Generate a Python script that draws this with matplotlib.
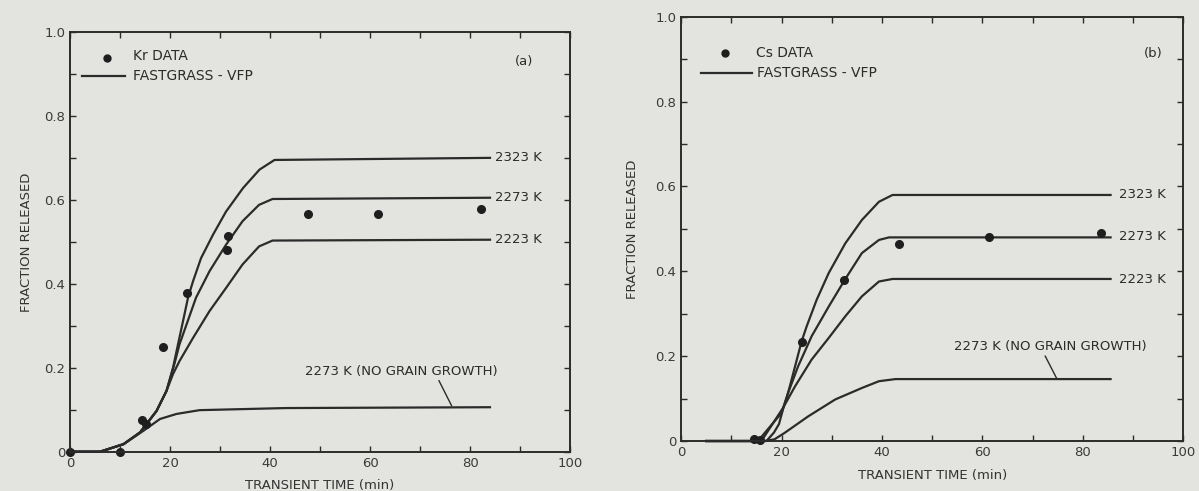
import matplotlib
matplotlib.use("Agg")
import matplotlib.pyplot as plt

# ---- data: panel (a) Kr ----
kr_t = [0, 10, 14.3, 15.2, 18.6, 23.4, 31.4, 31.6, 47.6, 61.6, 82.1]
kr_f = [0, 0, 0.075, 0.067, 0.25, 0.378, 0.481, 0.515, 0.566, 0.566, 0.578]

a2323_t = [0, 6, 10.7, 14.0, 15.3, 17.3, 19.3, 20.6, 21.6, 22.6, 23.6, 24.6, 26.2, 28.6, 31.2, 34.6, 37.9, 40.9, 84]
a2323_f = [0, 0, 0.018, 0.046, 0.066, 0.097, 0.145, 0.2, 0.256, 0.311, 0.367, 0.406, 0.461, 0.517, 0.572, 0.628, 0.672, 0.695, 0.70]
a2273_t = [0, 6, 10.7, 14.0, 15.3, 17.3, 19.3, 20.9, 21.9, 23.3, 25.2, 27.9, 31.2, 34.5, 37.8, 40.5, 84]
a2273_f = [0, 0, 0.018, 0.046, 0.066, 0.097, 0.145, 0.21, 0.256, 0.303, 0.367, 0.43, 0.493, 0.549, 0.588, 0.602, 0.605]
a2223_t = [0, 6, 10.7, 14.0, 15.3, 17.3, 19.3, 20.6, 21.9, 24.6, 27.9, 31.2, 34.5, 37.8, 40.5, 84]
a2223_f = [0, 0, 0.018, 0.046, 0.066, 0.097, 0.145, 0.185, 0.216, 0.271, 0.335, 0.39, 0.446, 0.489, 0.503, 0.505]
ang_t = [0, 6, 10.7, 14.7, 18.0, 21.3, 25.9, 43.1, 84]
ang_f = [0, 0, 0.018, 0.05, 0.078, 0.09, 0.099, 0.104, 0.106]

# ---- data: panel (b) Cs ----
cs_t = [14.6, 15.8, 24.0, 32.5, 43.3, 61.4, 83.6]
cs_f = [0.005, 0.003, 0.234, 0.38, 0.465, 0.48, 0.491]

b2323_t = [5, 15.3, 20.0, 21.3, 22.7, 24.0, 25.0, 27.0, 29.4, 32.7, 36.0, 39.4, 42.1, 85.5]
b2323_f = [0, 0, 0.066, 0.113, 0.176, 0.235, 0.27, 0.333, 0.396, 0.466, 0.521, 0.564, 0.580, 0.580]
b2273_t = [5, 17.0, 18.5, 19.5, 20.3, 21.3, 23.3, 26.0, 29.4, 32.7, 36.0, 39.4, 41.4, 85.5]
b2273_f = [0, 0, 0.02, 0.04, 0.075, 0.113, 0.176, 0.247, 0.317, 0.382, 0.443, 0.474, 0.480, 0.480]
b2223_t = [5, 16.0, 20.3, 22.7, 26.0, 29.4, 32.7, 36.0, 39.4, 42.1, 85.5]
b2223_f = [0, 0, 0.078, 0.129, 0.192, 0.243, 0.294, 0.341, 0.376, 0.382, 0.382]
bng_t = [5, 16.6, 18.6, 20.6, 25.3, 30.7, 36.0, 39.4, 42.7, 85.5]
bng_f = [0, 0, 0.004, 0.019, 0.058, 0.098, 0.125, 0.141, 0.146, 0.146]

x_ticks = [0, 20, 40, 60, 80, 100]
x_ticklabels = ["0", "20", "40", "60", "80", "100"]
y_ticks = [0, 0.2, 0.4, 0.6, 0.8, 1.0]
y_ticklabels = ["0", "0.2", "0.4", "0.6", "0.8", "1.0"]

BG = "#e3e3df"
INK = "#2b2b2b"
TXT = "#333333"
plt.rcParams["font.family"] = ["DejaVu Sans"]

fig = plt.figure(figsize=(11.99, 4.91), dpi=100, facecolor=BG)
axA = fig.add_axes([0.0584, 0.0800, 0.4170, 0.8550])
axB = fig.add_axes([0.5680, 0.1018, 0.4190, 0.8640])


def style(ax, ypad):
    ax.set_facecolor(BG)
    ax.set_xlim(0, 100)
    ax.set_ylim(0, 1.0)
    ax.set_xticks(x_ticks)
    ax.set_xticklabels(x_ticklabels)
    ax.set_yticks(y_ticks)
    ax.set_yticklabels(y_ticklabels)
    ax.set_xticks(range(0, 101, 10), minor=True)
    ax.set_yticks([i / 10 for i in range(11)], minor=True)
    ax.tick_params(which="both", direction="in", top=True, right=True,
                   color=INK, width=1.0, labelcolor="#3a3a3a", labelsize=9.5)
    ax.tick_params(which="major", length=4)
    ax.tick_params(which="minor", length=4)
    for s in ax.spines.values():
        s.set_color(INK)
        s.set_linewidth(1.4)
    ax.set_xlabel("TRANSIENT TIME (min)", fontsize=9.5, color=TXT, labelpad=7)
    ax.set_ylabel("FRACTION RELEASED", fontsize=9.5, color=TXT, labelpad=ypad)


lw = 1.6
style(axA, 8)
style(axB, 12)

# panel a
for t, f in [(a2323_t, a2323_f), (a2273_t, a2273_f), (a2223_t, a2223_f), (ang_t, ang_f)]:
    axA.plot(t, f, color=INK, lw=lw, clip_on=False, solid_joinstyle="round")
axA.plot(kr_t, kr_f, "o", color="#1e1e1e", ms=5.5, clip_on=False)
axA.text(85, 0.70, "2323 K", fontsize=9.5, va="center", color=INK)
axA.text(85, 0.605, "2273 K", fontsize=9.5, va="center", color=INK)
axA.text(85, 0.505, "2223 K", fontsize=9.5, va="center", color=INK)
axA.text(66.3, 0.192, "2273 K (NO GRAIN GROWTH)", fontsize=9.5, va="center", ha="center", color=INK)
axA.plot([73.8, 76.3], [0.169, 0.11], color=INK, lw=1.0)
axA.plot([7.4], [0.937], "o", color="#1e1e1e", ms=5)
axA.text(12.5, 0.942, "Kr DATA", fontsize=10, va="center", color=INK)
axA.plot([2.4, 11.0], [0.895, 0.895], color=INK, lw=lw)
axA.text(12.5, 0.895, "FASTGRASS - VFP", fontsize=10, va="center", color=INK)
axA.text(90.9, 0.93, "(a)", fontsize=9.5, va="center", ha="center", color=INK)

# panel b
for t, f in [(b2323_t, b2323_f), (b2273_t, b2273_f), (b2223_t, b2223_f), (bng_t, bng_f)]:
    axB.plot(t, f, color=INK, lw=lw, clip_on=False, solid_joinstyle="round")
axB.plot(cs_t, cs_f, "o", color="#1e1e1e", ms=5.5, clip_on=False)
axB.text(87.2, 0.58, "2323 K", fontsize=9.5, va="center", color=INK)
axB.text(87.2, 0.481, "2273 K", fontsize=9.5, va="center", color=INK)
axB.text(87.2, 0.38, "2223 K", fontsize=9.5, va="center", color=INK)
axB.text(73.6, 0.222, "2273 K (NO GRAIN GROWTH)", fontsize=9.5, va="center", ha="center", color=INK)
axB.plot([72.5, 74.8], [0.2, 0.147], color=INK, lw=1.0)
axB.plot([8.7], [0.914], "o", color="#1e1e1e", ms=5)
axB.text(14.9, 0.914, "Cs DATA", fontsize=10, va="center", color=INK)
axB.plot([3.9, 14.1], [0.868, 0.868], color=INK, lw=lw)
axB.text(15.1, 0.868, "FASTGRASS - VFP", fontsize=10, va="center", color=INK)
axB.text(94, 0.913, "(b)", fontsize=9.5, va="center", ha="center", color=INK)

fig.savefig("out.png", dpi=100, facecolor=BG)
